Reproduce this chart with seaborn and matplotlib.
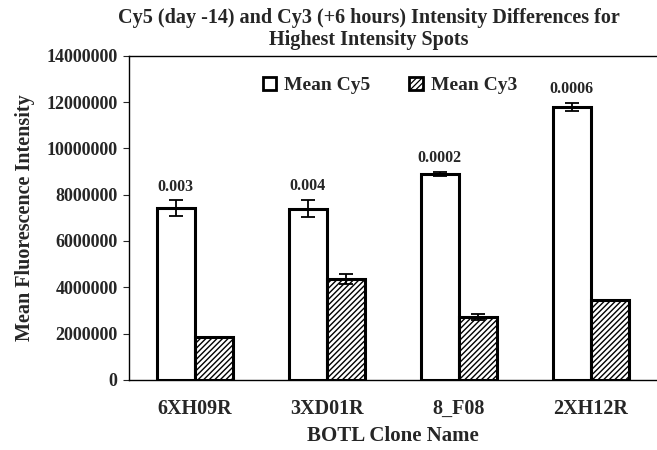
import pandas as pd
import numpy as np
import matplotlib
matplotlib.use('Agg')
import matplotlib.pyplot as plt
import seaborn as sns
from matplotlib.patches import Patch

'''DATA'''
clones = ['6XH09R', '3XD01R', '8_F08', '2XH12R']
cy5_mean = [7420000, 7400000, 8900000, 11800000]
cy3_mean = [1850000, 4350000, 2720000, 3440000]
cy5_err = [330000, 380000, 100000, 180000]
cy3_err = [0, 230000, 140000, 0]
p_values = ['0.003', '0.004', '0.0002', '0.0006']
series = ['Mean Cy5', 'Mean Cy3']

df = pd.DataFrame({
    'clone': clones * 2,
    'series': [series[0]] * 4 + [series[1]] * 4,
    'value': cy5_mean + cy3_mean,
})

sns.set_style('white')
plt.rcParams['font.family'] = ['Liberation Serif', 'DejaVu Serif']
plt.rcParams['font.weight'] = 'bold'

fig = plt.figure(figsize=(6.57, 4.5), dpi=100)
ax = fig.add_axes([0.196, 0.156, 0.804, 0.72])

sns.barplot(data=df, x='clone', y='value', hue='series', order=clones,
            hue_order=series, palette=['white', 'white'], width=0.58,
            edgecolor='black', linewidth=2.2, errorbar=None, legend=False, ax=ax)

plt.rcParams['hatch.linewidth'] = 0.9
# hatch the Cy3 bars and add the error bars
for container, errs, hatch in zip(ax.containers, [cy5_err, cy3_err], ['', '//////']):
    xs = []
    for bar in container:
        bar.set_hatch(hatch)
        xs.append(bar.get_x() + bar.get_width() / 2)
    heights = [b.get_height() for b in container]
    ax.errorbar(xs, heights, yerr=errs, fmt='none', ecolor='black',
                elinewidth=1.3, capsize=5, capthick=1.3)
    if hatch == '':
        for x, h, e, p in zip(xs, heights, errs, p_values):
            ax.text(x, h + e + 250000, p, ha='center', va='bottom',
                    fontsize=11.5, fontweight='bold')

ax.set_xlim(-0.5, 3.5)
ax.set_ylim(0, 14000000)
ax.set_yticks(np.arange(0, 14000001, 2000000))
ax.set_yticklabels([str(v) for v in range(0, 14000001, 2000000)],
                   fontsize=13, fontweight='bold')
ax.set_xticks(range(4))
ax.set_xticklabels(clones, fontsize=14.5, fontweight='bold')
ax.tick_params(axis='x', length=0, pad=14)
ax.set_xticks([0.5, 1.5, 2.5], minor=True)
ax.tick_params(axis='x', which='minor', length=4, direction='out', width=0.8)
ax.tick_params(axis='y', length=4, direction='out', width=0.8, pad=4, left=True)

for s in ['left', 'bottom', 'top']:
    ax.spines[s].set_color('black')
    ax.spines[s].set_linewidth(1.0)
ax.spines['right'].set_visible(False)

ax.set_xlabel('BOTL Clone Name', fontsize=15, fontweight='bold', labelpad=5)
ax.set_ylabel('Mean Fluorescence Intensity', fontsize=14.5, fontweight='bold', labelpad=8)
ax.set_title('Cy5 (day -14) and Cy3 (+6 hours) Intensity Differences for\nHighest Intensity Spots',
             fontsize=14.5, fontweight='bold', pad=8, linespacing=1.1, x=0.455)

handles = [Patch(facecolor='white', edgecolor='black', linewidth=2),
           Patch(facecolor='white', edgecolor='black', linewidth=2, hatch='//////')]
ax.legend(handles, series, loc='upper center', bbox_to_anchor=(0.494, 0.99), ncol=2,
          frameon=False, handlelength=0.7, handleheight=0.7, columnspacing=2.0,
          handletextpad=0.4, prop={'size': 14, 'weight': 'bold'})

fig.savefig('out.png', dpi=100)
